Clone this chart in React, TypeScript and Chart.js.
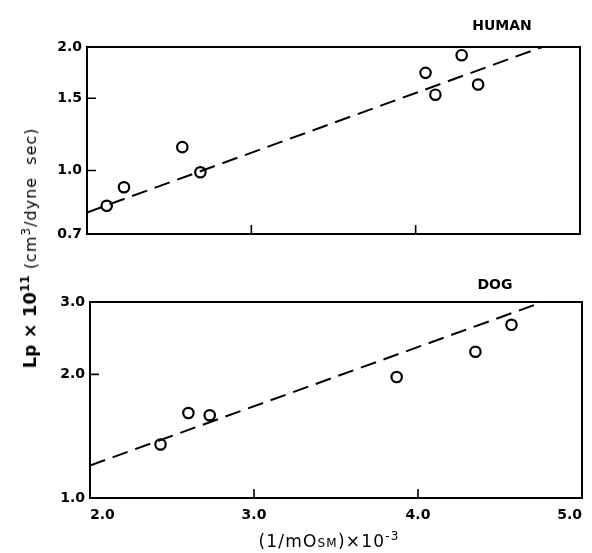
import React, { useEffect, useRef } from "react";
import { Chart, registerables } from "chart.js";

Chart.register(...registerables);

// ---- Data ----
const humanX = [2.12, 2.225, 2.58, 2.69, 4.06, 4.12, 4.28, 4.38];
const humanY = [0.82, 0.91, 1.14, 0.99, 1.73, 1.53, 1.91, 1.62];
const humanFitX = [2.0, 4.77];
const humanFitY = [0.79, 2.0];

const dogX = [2.43, 2.6, 2.73, 3.87, 4.35, 4.57];
const dogY = [1.35, 1.61, 1.59, 1.97, 2.27, 2.64];
const dogFitX = [2.0, 4.76];
const dogFitY = [1.2, 3.0];

const xTicks = [2.0, 3.0, 4.0, 5.0];
const xInnerTicks = [3.0, 4.0];
const humanYTicks = [0.7, 1.0, 1.5, 2.0];
const humanInnerYTicks = [1.0, 1.5];
const dogYTicks = [1.0, 2.0, 3.0];
const dogInnerYTicks = [2.0];

const FONT = "'DejaVu Sans', 'Liberation Sans', Arial, sans-serif";

const framePlugin = {
  id: "frame",
  afterDraw(chart: any, _args: any, opts: any) {
    const { ctx, chartArea: a, scales } = chart;
    ctx.save();
    ctx.strokeStyle = "#000";
    ctx.lineWidth = 2;
    ctx.strokeRect(a.left, a.top, a.right - a.left, a.bottom - a.top);
    const len = 9;
    ctx.lineWidth = 1.6;
    ctx.beginPath();
    for (const v of opts.xTicks || []) {
      const px = scales.x.getPixelForValue(v);
      ctx.moveTo(px, a.bottom);
      ctx.lineTo(px, a.bottom - len);
    }
    for (const v of opts.yTicks || []) {
      const py = scales.y.getPixelForValue(v);
      ctx.moveTo(a.left, py);
      ctx.lineTo(a.left + len, py);
    }
    ctx.stroke();
    ctx.restore();
  },
};

function makeConfig(p: {
  xs: number[];
  ys: number[];
  fx: number[];
  fy: number[];
  yMin: number;
  yMax: number;
  yTicks: number[];
  yInner: number[];
  showX: boolean;
  padTop: number;
  padRight: number;
  yWidth: number;
  xHeight: number;
}): any {
  const tickFont = { family: FONT, size: 14, weight: "bold" as const };
  return {
    type: "scatter",
    data: {
      datasets: [
        {
          data: p.xs.map((x, i) => ({ x, y: p.ys[i] })),
          pointRadius: 5.2,
          pointHoverRadius: 5.2,
          pointBorderWidth: 2.2,
          borderColor: "#000",
          backgroundColor: "rgba(0,0,0,0)",
          pointStyle: "circle",
          showLine: false,
        },
        {
          data: p.fx.map((x, i) => ({ x, y: p.fy[i] })),
          showLine: true,
          pointRadius: 0,
          borderColor: "#000",
          borderWidth: 2,
          borderDash: [16, 8],
          fill: false,
        },
      ],
    },
    options: {
      animation: false,
      responsive: false,
      events: [],
      layout: { padding: { top: p.padTop, right: p.padRight, left: 0, bottom: 0 } },
      plugins: {
        legend: { display: false },
        tooltip: { enabled: false },
        frame: { xTicks: xInnerTicks, yTicks: p.yInner },
      },
      scales: {
        x: {
          type: "linear",
          min: 2,
          max: 5,
          grid: { display: false, drawTicks: false },
          border: { display: false },
          afterBuildTicks: (s: any) => {
            s.ticks = xTicks.map((v) => ({ value: v }));
          },
          ticks: {
            display: p.showX,
            color: "#000",
            font: tickFont,
            padding: 9,
            align: "inner",
            maxRotation: 0,
            callback: (v: any) => Number(v).toFixed(1),
          },
          afterFit: (s: any) => {
            s.height = p.xHeight;
          },
        },
        y: {
          type: "logarithmic",
          min: p.yMin,
          max: p.yMax,
          grid: { display: false, drawTicks: false },
          border: { display: false },
          afterBuildTicks: (s: any) => {
            s.ticks = p.yTicks.map((v) => ({ value: v }));
          },
          ticks: {
            color: "#000",
            font: tickFont,
            padding: 5,
            callback: (v: any) => Number(v).toFixed(1),
          },
          afterFit: (s: any) => {
            s.width = p.yWidth;
          },
        },
      },
    },
    plugins: [framePlugin],
  };
}

export default function App() {
  const topRef = useRef<HTMLCanvasElement | null>(null);
  const botRef = useRef<HTMLCanvasElement | null>(null);

  useEffect(() => {
    const c1 = new Chart(
      topRef.current as HTMLCanvasElement,
      makeConfig({
        xs: humanX,
        ys: humanY,
        fx: humanFitX,
        fy: humanFitY,
        yMin: 0.7,
        yMax: 2.0,
        yTicks: humanYTicks,
        yInner: humanInnerYTicks,
        showX: false,
        padTop: 47,
        padRight: 12,
        yWidth: 87,
        xHeight: 16,
      })
    );
    const c2 = new Chart(
      botRef.current as HTMLCanvasElement,
      makeConfig({
        xs: dogX,
        ys: dogY,
        fx: dogFitX,
        fy: dogFitY,
        yMin: 1.0,
        yMax: 3.0,
        yTicks: dogYTicks,
        yInner: dogInnerYTicks,
        showX: true,
        padTop: 42,
        padRight: 10,
        yWidth: 90,
        xHeight: 32,
      })
    );
    return () => {
      c1.destroy();
      c2.destroy();
    };
  }, []);

  return (
    <div
      style={{
        position: "absolute",
        left: 0,
        top: 0,
        width: 592,
        height: 553,
        background: "#fff",
        fontFamily: FONT,
        color: "#000",
        overflow: "hidden",
      }}
    >
      <canvas
        ref={topRef}
        width={592}
        height={250}
        style={{ position: "absolute", left: 0, top: 0, display: "block" }}
      />
      <canvas
        ref={botRef}
        width={592}
        height={270}
        style={{ position: "absolute", left: 0, top: 260, display: "block" }}
      />
      <div
        style={{
          position: "absolute",
          left: 502,
          top: 25,
          transform: "translate(-50%, -50%)",
          fontWeight: "bold",
          fontSize: 14,
          whiteSpace: "nowrap",
        }}
      >
        HUMAN
      </div>
      <div
        style={{
          position: "absolute",
          left: 495,
          top: 284,
          transform: "translate(-50%, -50%)",
          fontWeight: "bold",
          fontSize: 14,
          whiteSpace: "nowrap",
        }}
      >
        DOG
      </div>
      <div
        style={{
          position: "absolute",
          left: 29,
          top: 248,
          transform: "translate(-50%, -50%) rotate(-90deg)",
          whiteSpace: "nowrap",
          lineHeight: 1,
        }}
      >
        <span style={{ fontWeight: "bold", fontSize: 18 }}>
          L<span style={{ fontSize: 17 }}>p</span> × 10
          <sup style={{ fontSize: 12 }}>11</sup>
        </span>
        <span style={{ fontSize: 16, letterSpacing: 1 }}>
          {"  "}(cm<sup style={{ fontSize: 12 }}>3</sup>/dyne&nbsp;&nbsp;sec)
        </span>
      </div>
      <div
        style={{
          position: "absolute",
          left: 329,
          top: 540,
          transform: "translate(-50%, -50%)",
          whiteSpace: "nowrap",
          fontSize: 17,
          letterSpacing: 1.2,
          lineHeight: 1,
        }}
      >
        (1/mO<span style={{ fontVariant: "small-caps" }}>sm</span>)×10
        <sup style={{ fontSize: 12 }}>-3</sup>
      </div>
    </div>
  );
}
